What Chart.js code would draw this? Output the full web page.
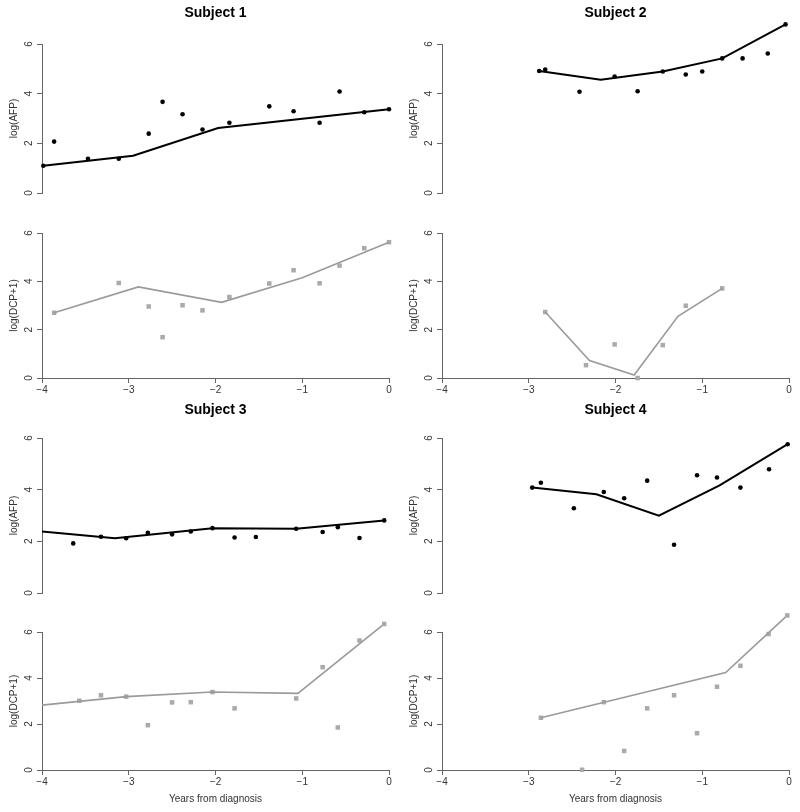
<!DOCTYPE html>
<html>
<head>
<meta charset="utf-8">
<script src="https://cdn.jsdelivr.net/npm/chart.js@4"></script>
<style>
  body { margin: 0; background: #fff; }
  #wrap { position: relative; width: 800px; height: 812px; }
  canvas { position: absolute; }
</style>
</head>
<body>
<div id="wrap">
  <canvas id="s1a" width="400" height="204" style="left:0;top:0"></canvas>
  <canvas id="s1d" width="400" height="190" style="left:0;top:210px"></canvas>
  <canvas id="s2a" width="400" height="204" style="left:400px;top:0"></canvas>
  <canvas id="s2d" width="400" height="190" style="left:400px;top:210px"></canvas>
  <canvas id="s3a" width="400" height="207" style="left:0;top:397px"></canvas>
  <canvas id="s3d" width="400" height="202" style="left:0;top:610px"></canvas>
  <canvas id="s4a" width="400" height="207" style="left:400px;top:397px"></canvas>
  <canvas id="s4d" width="400" height="202" style="left:400px;top:610px"></canvas>
</div>
<script>
// Subject 1
const s1AfpYears = [-3.985, -3.86, -3.47, -3.115, -2.77, -2.61, -2.38, -2.15, -1.84, -1.38, -1.10, -0.80, -0.57, -0.285, 0];
const s1Afp      = [1.10, 2.07, 1.38, 1.38, 2.39, 3.67, 3.17, 2.56, 2.83, 3.49, 3.29, 2.83, 4.09, 3.25, 3.37];
const s1AfpFitYears = [-3.985, -2.95, -1.97, 0];
const s1AfpFit      = [1.10, 1.50, 2.62, 3.37];
const s1DcpYears = [-3.86, -3.115, -2.77, -2.61, -2.38, -2.15, -1.84, -1.38, -1.10, -0.80, -0.57, -0.285, 0];
const s1Dcp      = [2.70, 3.93, 2.96, 1.69, 3.01, 2.80, 3.35, 3.91, 4.46, 3.92, 4.65, 5.37, 5.62];
const s1DcpFitYears = [-3.86, -2.89, -1.93, -1.0, 0];
const s1DcpFit      = [2.70, 3.77, 3.13, 4.15, 5.62];

// Subject 2
const s2AfpYears = [-2.88, -2.81, -2.415, -2.01, -1.745, -1.455, -1.19, -1.0, -0.77, -0.535, -0.245, -0.04];
const s2Afp      = [4.91, 4.97, 4.08, 4.69, 4.10, 4.89, 4.77, 4.89, 5.42, 5.42, 5.62, 6.79];
const s2AfpFitYears = [-2.88, -2.17, -1.455, -0.77, -0.04];
const s2AfpFit      = [4.91, 4.56, 4.89, 5.42, 6.79];
const s2DcpYears = [-2.81, -2.34, -2.01, -1.745, -1.455, -1.19, -0.77];
const s2Dcp      = [2.73, 0.53, 1.39, 0.0, 1.36, 2.99, 3.71];
const s2DcpFitYears = [-2.81, -2.30, -1.785, -1.28, -0.77];
const s2DcpFit      = [2.73, 0.72, 0.12, 2.55, 3.71];

// Subject 3
const s3AfpYears = [-3.64, -3.32, -3.03, -2.78, -2.50, -2.285, -2.035, -1.78, -1.535, -1.07, -0.765, -0.59, -0.34, -0.055];
const s3Afp      = [1.92, 2.18, 2.12, 2.33, 2.27, 2.38, 2.51, 2.15, 2.17, 2.49, 2.36, 2.55, 2.13, 2.81];
const s3AfpFitYears = [-4.0, -3.16, -2.035, -1.07, -0.055];
const s3AfpFit      = [2.38, 2.12, 2.51, 2.49, 2.81];
const s3DcpYears = [-3.57, -3.32, -3.03, -2.78, -2.50, -2.285, -2.035, -1.78, -1.07, -0.765, -0.59, -0.34, -0.055];
const s3Dcp      = [3.01, 3.25, 3.19, 1.95, 2.94, 2.95, 3.39, 2.68, 3.11, 4.47, 1.85, 5.63, 6.35];
const s3DcpFitYears = [-4.0, -3.03, -2.035, -1.05, -0.055];
const s3DcpFit      = [2.82, 3.19, 3.39, 3.33, 6.35];

// Subject 4
const s4AfpYears = [-2.96, -2.86, -2.48, -2.135, -1.90, -1.635, -1.325, -1.06, -0.83, -0.56, -0.23, -0.015];
const s4Afp      = [4.08, 4.27, 3.28, 3.91, 3.67, 4.35, 1.87, 4.56, 4.47, 4.08, 4.79, 5.76];
const s4AfpFitYears = [-2.96, -2.22, -1.50, -0.80, -0.015];
const s4AfpFit      = [4.08, 3.82, 2.99, 4.17, 5.76];
const s4DcpYears = [-2.86, -2.385, -2.135, -1.90, -1.635, -1.325, -1.06, -0.83, -0.56, -0.235, -0.02];
const s4Dcp      = [2.27, 0.01, 2.95, 0.83, 2.68, 3.25, 1.60, 3.62, 4.53, 5.91, 6.72];
const s4DcpFitYears = [-2.86, -0.73, -0.02];
const s4DcpFit      = [2.27, 4.24, 6.72];

const xTicks = [-4, -3, -2, -1, 0];
const yTicks = [0, 2, 4, 6];

const axisColor = '#666';
const textColor = '#333';
const font = 'Liberation Sans, Arial, Helvetica, sans-serif';

function pairs(xs, ys) {
    return xs.map((x, i) => ({ x: x, y: ys[i] }));
}

function minusSign(v) {
    return v < 0 ? '\u2212' + Math.abs(v) : String(v);
}

// points above the y range (R draws them anyway) are skipped by Chart.js, redraw them here
const overflowPoints = {
    id: 'overflowPoints',
    afterDatasetsDraw(chart) {
        const area = chart.chartArea;
        chart.getDatasetMeta(1).data.forEach(p => {
            if (p.y < area.top - 1) p.draw(chart.ctx);
        });
    }
};

function makePanel(id, cfg) {
    const isAfp = cfg.kind === 'afp';
    const dotColor = isAfp ? '#000' : '#aaa';
    const lineColor = isAfp ? '#000' : '#9a9a9a';

    new Chart(document.getElementById(id), {
        type: 'scatter',
        data: {
            datasets: [{
                data: pairs(cfg.fitX, cfg.fitY),
                showLine: true,
                borderColor: lineColor,
                borderWidth: isAfp ? 2 : 1.6,
                pointRadius: 0,
                tension: 0,
                clip: false
            }, {
                data: pairs(cfg.x, cfg.y),
                showLine: false,
                pointStyle: isAfp ? 'circle' : 'rect',
                pointRadius: isAfp ? 2.3 : 3.2,
                pointBackgroundColor: dotColor,
                pointBorderWidth: 0,
                clip: false
            }]
        },
        plugins: [overflowPoints],
        options: {
            responsive: false,
            animation: false,
            events: [],
            layout: { padding: cfg.padding },
            plugins: {
                legend: { display: false },
                tooltip: { enabled: false },
                title: {
                    display: !!cfg.title,
                    text: cfg.title || '',
                    fullSize: false,
                    color: '#000',
                    font: { family: font, size: 14, weight: 'bold' },
                    padding: { top: 5, bottom: cfg.titleGap || 0 }
                }
            },
            scales: {
                x: {
                    type: 'linear',
                    min: -4,
                    max: 0,
                    display: cfg.showX,
                    afterBuildTicks: s => { s.ticks = xTicks.map(v => ({ value: v })); },
                    afterFit: s => { if (cfg.xHeight) s.height = cfg.xHeight; },
                    grid: { display: true, drawOnChartArea: false, drawTicks: true, tickLength: 5, color: axisColor },
                    border: { display: true, color: axisColor, width: 1 },
                    ticks: {
                        color: textColor,
                        padding: 1,
                        maxRotation: 0,
                        font: { family: font, size: 10 },
                        callback: v => minusSign(v)
                    },
                    title: {
                        display: !!cfg.xTitle,
                        text: cfg.xTitle || '',
                        color: textColor,
                        font: { family: font, size: 10 },
                        padding: { top: 0, bottom: 7 }
                    }
                },
                y: {
                    type: 'linear',
                    min: 0,
                    max: 6,
                    afterBuildTicks: s => { s.ticks = yTicks.map(v => ({ value: v })); },
                    afterFit: s => { s.width = 42; },
                    grid: { display: true, drawOnChartArea: false, drawTicks: true, tickLength: 5, color: axisColor },
                    border: { display: true, color: axisColor, width: 1 },
                    ticks: {
                        color: textColor,
                        padding: 5,
                        minRotation: 90,
                        maxRotation: 90,
                        crossAlign: 'center',
                        font: { family: font, size: 10 }
                    },
                    title: {
                        display: true,
                        text: isAfp ? 'log(AFP)' : 'log(DCP+1)',
                        color: textColor,
                        font: { family: font, size: 10 },
                        padding: { top: 8, bottom: 0 }
                    }
                }
            }
        }
    });
}

const rightPad = 11;

makePanel('s1a', { kind: 'afp', title: 'Subject 1', titleGap: 22.2, x: s1AfpYears, y: s1Afp, fitX: s1AfpFitYears, fitY: s1AfpFit,
    showX: false, padding: { top: 0, bottom: 10, left: 0, right: rightPad } });
makePanel('s1d', { kind: 'dcp', x: s1DcpYears, y: s1Dcp, fitX: s1DcpFitYears, fitY: s1DcpFit,
    showX: true, xHeight: 22, padding: { top: 23, bottom: 0, left: 0, right: rightPad } });
makePanel('s2a', { kind: 'afp', title: 'Subject 2', titleGap: 22.2, x: s2AfpYears, y: s2Afp, fitX: s2AfpFitYears, fitY: s2AfpFit,
    showX: false, padding: { top: 0, bottom: 10, left: 0, right: rightPad } });
makePanel('s2d', { kind: 'dcp', x: s2DcpYears, y: s2Dcp, fitX: s2DcpFitYears, fitY: s2DcpFit,
    showX: true, xHeight: 22, padding: { top: 23, bottom: 0, left: 0, right: rightPad } });
makePanel('s3a', { kind: 'afp', title: 'Subject 3', titleGap: 19.2, x: s3AfpYears, y: s3Afp, fitX: s3AfpFitYears, fitY: s3AfpFit,
    showX: false, padding: { top: 0, bottom: 10, left: 0, right: rightPad } });
makePanel('s3d', { kind: 'dcp', x: s3DcpYears, y: s3Dcp, fitX: s3DcpFitYears, fitY: s3DcpFit,
    showX: true, xHeight: 42, xTitle: 'Years from diagnosis', padding: { top: 22, bottom: 0, left: 0, right: rightPad } });
makePanel('s4a', { kind: 'afp', title: 'Subject 4', titleGap: 19.2, x: s4AfpYears, y: s4Afp, fitX: s4AfpFitYears, fitY: s4AfpFit,
    showX: false, padding: { top: 0, bottom: 10, left: 0, right: rightPad } });
makePanel('s4d', { kind: 'dcp', x: s4DcpYears, y: s4Dcp, fitX: s4DcpFitYears, fitY: s4DcpFit,
    showX: true, xHeight: 42, xTitle: 'Years from diagnosis', padding: { top: 22, bottom: 0, left: 0, right: rightPad } });
</script>
</body>
</html>
